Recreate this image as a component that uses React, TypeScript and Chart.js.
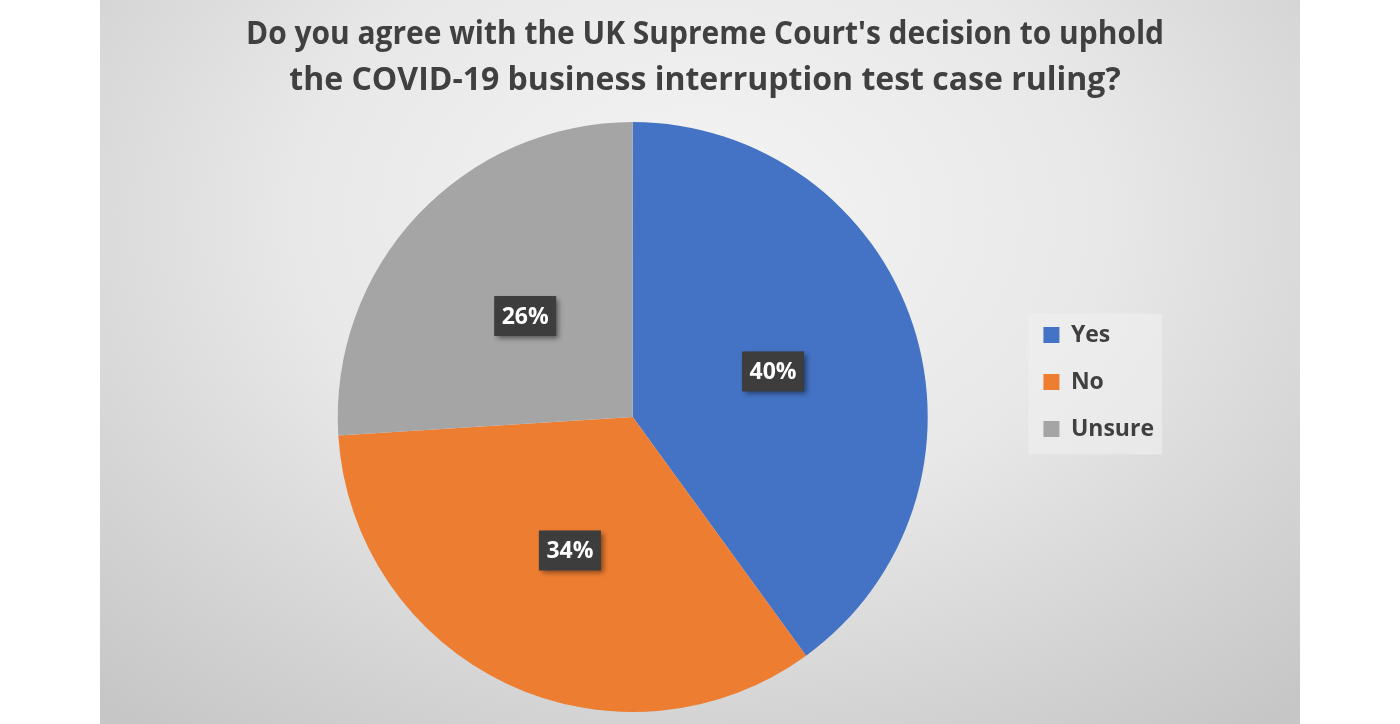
import React, { useEffect, useRef } from 'react';
import { Chart, registerables } from 'chart.js';

Chart.register(...registerables);

const titleLines = [
  "Do you agree with the UK Supreme Court's decision to uphold",
  'the COVID-19 business interruption test case ruling?',
];
const answers = ['Yes', 'No', 'Unsure'];
const shares = [40, 34, 26];
const sliceColors = ['#4472c4', '#ed7d31', '#a5a5a5'];

const FONT = "'Open Sans', 'Noto Sans', sans-serif";
const LEGEND_RAISE = 35;

// puts the legend a bit above the pie centre and paints its light panel
const legendPanel = {
  id: 'legendPanel',
  afterUpdate(chart: any) {
    const lg = chart.legend;
    const ca = chart.chartArea;
    if (!lg || !ca) return;
    const pad = lg.options.labels.padding;
    lg.top = ca.top - LEGEND_RAISE;
    lg.bottom = ca.bottom - LEGEND_RAISE;
    const boxes = lg.legendHitBoxes || [];
    const colHeight = lg.columnSizes?.[0]?.height ?? 0;
    let y = (lg.top + pad + lg.bottom - colHeight) / 2;
    boxes.forEach((hb: any) => {
      hb.top = y;
      y += hb.height + pad;
    });
  },
  beforeDraw(chart: any) {
    const boxes = chart.legend?.legendHitBoxes;
    if (!boxes || !boxes.length) return;
    const left = Math.min(...boxes.map((b: any) => b.left)) - 15;
    const right = Math.max(...boxes.map((b: any) => b.left + b.width)) + 8;
    const top = boxes[0].top - 10;
    const last = boxes[boxes.length - 1];
    const bottom = last.top + last.height + 14;
    const ctx = chart.ctx;
    ctx.save();
    ctx.fillStyle = 'rgba(240,240,240,0.6)';
    ctx.fillRect(left, top, right - left, bottom - top);
    ctx.restore();
  },
};

// dark boxed percentage labels at the slice centres
const sliceLabels = {
  id: 'sliceLabels',
  afterDatasetsDraw(chart: any) {
    const ctx = chart.ctx;
    const meta = chart.getDatasetMeta(0);
    meta.data.forEach((arc: any, i: number) => {
      const { x, y } = arc.getCenterPoint();
      const w = 62;
      const h = 40;
      ctx.save();
      ctx.shadowColor = 'rgba(0,0,0,0.45)';
      ctx.shadowBlur = 5;
      ctx.shadowOffsetX = 3;
      ctx.shadowOffsetY = 3;
      ctx.fillStyle = '#3d3d3d';
      ctx.fillRect(x - w / 2, y - h / 2, w, h);
      ctx.restore();
      ctx.save();
      ctx.fillStyle = '#ffffff';
      ctx.font = `bold 23px ${FONT}`;
      ctx.textAlign = 'center';
      ctx.textBaseline = 'middle';
      ctx.fillText(`${shares[i]}%`, x, y + 1);
      ctx.restore();
    });
  },
};

const SurveyPie: React.FC = () => {
  const canvasRef = useRef<HTMLCanvasElement | null>(null);

  useEffect(() => {
    if (!canvasRef.current) return;
    const ctx = canvasRef.current.getContext('2d');
    if (!ctx) return;

    const chart = new Chart(ctx, {
      type: 'pie',
      data: {
        labels: answers,
        datasets: [
          {
            data: shares,
            backgroundColor: sliceColors,
            borderWidth: 0,
          },
        ],
      },
      options: {
        responsive: false,
        animation: false,
        layout: { padding: { top: 0, bottom: 12, left: 146, right: 136 } },
        plugins: {
          title: {
            display: true,
            text: titleLines,
            color: '#404040',
            font: { family: FONT, size: 32, weight: 'bold', lineHeight: 1.4375 },
            padding: { top: 12, bottom: 18 },
          },
          legend: {
            position: 'right',
            labels: {
              boxWidth: 16,
              boxHeight: 16,
              padding: 24,
              color: '#404040',
              font: { family: FONT, size: 23, weight: 'bold' },
            },
          },
          tooltip: { enabled: false },
        },
      },
      plugins: [legendPanel, sliceLabels],
    });

    return () => {
      chart.destroy();
    };
  }, []);

  return (
    <div
      style={{
        position: 'absolute',
        left: 100,
        top: 0,
        width: 1200,
        height: 724,
        background:
          'radial-gradient(ellipse 75% 90% at 50% 30%, #f4f4f4 0%, #e8e8e8 45%, #d2d2d2 80%, #c6c6c6 100%)',
      }}
    >
      <canvas ref={canvasRef} width={1200} height={724} style={{ width: 1200, height: 724 }} />
    </div>
  );
};

export default function App() {
  return <SurveyPie />;
}
